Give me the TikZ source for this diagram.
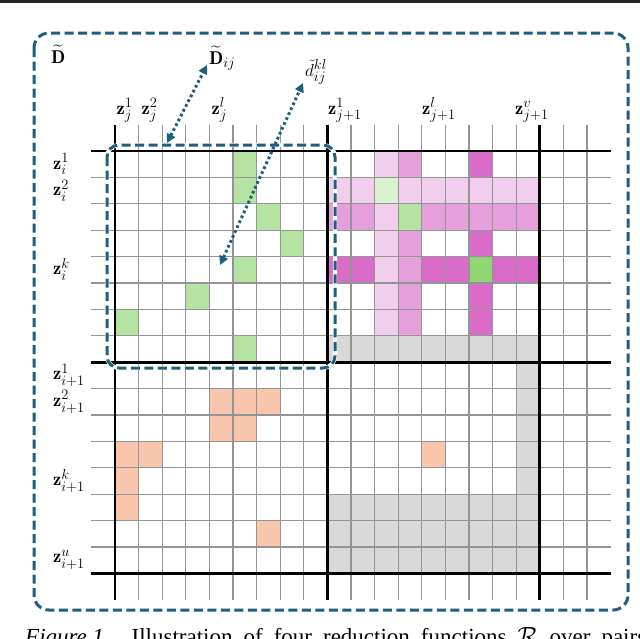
\documentclass[tikz,border=0pt]{standalone}
\usepackage{fontspec}
\usepackage{amsmath}
\usetikzlibrary{arrows.meta}
\DeclareMathSizes{18.5}{18.5}{13.8}{10.5}
\newfontfamily\capfont{Liberation Serif}
\definecolor{tealb}{RGB}{30,94,128}
\definecolor{gA}{RGB}{181,227,162}
\definecolor{gPale}{RGB}{218,242,208}
\definecolor{gBright}{RGB}{146,214,115}
\definecolor{pL}{RGB}{242,206,237}
\definecolor{pM}{RGB}{229,160,219}
\definecolor{pD}{RGB}{217,108,200}
\definecolor{salm}{RGB}{248,198,172}
\definecolor{grayc}{RGB}{217,217,217}
\newcommand\fillcell[3]{\fill[#1] ({115+#2*23.6},{151+#3*26.4}) rectangle ++(23.6,26.4);}
\begin{document}
\begin{tikzpicture}[x=1pt,y=-1pt,
  gridthin/.style={draw=black!42, line width=1.1pt},
  gridthick/.style={draw=black, line width=2.8pt},
  zlabel/.style={font=\fontsize{18.5}{20}\selectfont, inner sep=0pt},
  dashbox/.style={draw=tealb, line width=3pt, dash pattern=on 9pt off 4.5pt},
  dotarrow/.style={draw=tealb, line width=3pt, dash pattern=on 2.7pt off 2.7pt,
     {Triangle[length=9pt,width=9pt]}-{Triangle[length=9pt,width=9pt]}}
]
\useasboundingbox (0,0) rectangle (640,638);
\clip (0,0) rectangle (640,638);
\fill[white] (0,0) rectangle (640,638);
\draw[line width=2.6pt, black!85] (0,1.3) -- (640,1.3);

% ---- coloured cells ----
\foreach \c/\r in {5/0,5/1,6/2,7/3,5/4,3/5,0/6,5/7,12/2} {\fillcell{gA}{\c}{\r}}
\fillcell{gPale}{11}{1}
\fillcell{gBright}{15}{4}
\foreach \c/\r in {11/0,9/1,10/1,12/1,13/1,14/1,15/1,16/1,17/1,11/2,11/3,11/4,11/5,11/6} {\fillcell{pL}{\c}{\r}}
\foreach \c/\r in {12/0,9/2,10/2,13/2,14/2,15/2,16/2,17/2,12/3,12/4,12/5,12/6} {\fillcell{pM}{\c}{\r}}
\foreach \c/\r in {15/0,15/3,9/4,10/4,13/4,14/4,16/4,17/4,15/5,15/6} {\fillcell{pD}{\c}{\r}}
\foreach \c in {9,...,17} {\fillcell{grayc}{\c}{7}}
\foreach \r in {8,...,12} {\fillcell{grayc}{17}{\r}}
\foreach \r in {13,14,15} {\foreach \c in {9,...,17} {\fillcell{grayc}{\c}{\r}}}
\foreach \c/\r in {4/9,5/9,6/9,4/10,5/10,0/11,1/11,0/12,0/13,6/14,13/11} {\fillcell{salm}{\c}{\r}}

% ---- grid ----
\foreach \c in {0,...,20} {\draw[gridthin] ({115+\c*23.6},124.6) -- ({115+\c*23.6},599.8);}
\foreach \r in {0,...,16} {\draw[gridthin] (91.4,{151+\r*26.4}) -- (610.6,{151+\r*26.4});}
\foreach \c in {0,9,18} {\draw[gridthick] ({115+\c*23.6},124.6) -- ({115+\c*23.6},599.8);}
\foreach \r in {0,8,16} {\draw[gridthick] (91.4,{151+\r*26.4}) -- (610.6,{151+\r*26.4});}

% ---- inner block frame ----
\draw[white, line width=4.2pt, rounded corners=12pt] (107,145) rectangle (335,368);
\draw[dashbox, rounded corners=12pt] (107,145) rectangle (335,368);

% ---- outer frame ----
\draw[dashbox, rounded corners=15pt] (34,33) rectangle (628,610);

% ---- labels ----
\node[zlabel, anchor=base west] (Dt) at (51,63) {$\widetilde{\mathbf{D}}$};
\node[zlabel, anchor=base west] (Dij) at (209,64) {$\widetilde{\mathbf{D}}_{ij}$};
\node[zlabel, anchor=base west] (dkl) at (305,76) {$\tilde{d}_{ij}^{kl}$};

\node[zlabel, anchor=base west] (zj1) at (116.5,114) {$\mathbf{z}_j^1$};
\node[zlabel, anchor=base west] (zj2) at (141.5,114) {$\mathbf{z}_j^2$};
\node[zlabel, anchor=base west] (zjl) at (211.5,114) {$\mathbf{z}_j^l$};
\node[zlabel, anchor=base west] (zJ1) at (328,114) {$\mathbf{z}_{j+1}^1$};
\node[zlabel, anchor=base west] (zJl) at (422,114) {$\mathbf{z}_{j+1}^l$};
\node[zlabel, anchor=base west] (zJv) at (515,114) {$\mathbf{z}_{j+1}^v$};

\node[zlabel, anchor=west] (zi1) at (53,{151+0.5*26.4}) {$\mathbf{z}_i^1$};
\node[zlabel, anchor=west] (zi2) at (53,{151+1.5*26.4}) {$\mathbf{z}_i^2$};
\node[zlabel, anchor=west] (zik) at (53,{151+4.5*26.4}) {$\mathbf{z}_i^k$};
\node[zlabel, anchor=west] (zI1) at (53,{151+8.5*26.4}) {$\mathbf{z}_{i+1}^1$};
\node[zlabel, anchor=west] (zI2) at (53,{151+9.5*26.4}) {$\mathbf{z}_{i+1}^2$};
\node[zlabel, anchor=west] (zIk) at (53,{151+12.5*26.4}) {$\mathbf{z}_{i+1}^k$};
\node[zlabel, anchor=west] (zIu) at (53,{151+15.5*26.4}) {$\mathbf{z}_{i+1}^u$};

% ---- dotted arrows ----
\coordinate (a1s) at (167,143);
\coordinate (a1e) at (207,65);
\coordinate (a2s) at (220,265);
\coordinate (a2e) at (303,83);
\draw[dotarrow] (a1s) -- (a1e);
\draw[dotarrow] (a2s) -- (a2e);

% ---- caption (cut by the bottom edge) ----
\node[anchor=base west, inner sep=0pt, font=\capfont\fontsize{23}{25}\selectfont] (cap) at (25,644)
  {\spaceskip=11pt \textit{Figure\kern5.5pt 1.}\hspace{22pt}Illustration of four reduction functions $\mathcal{R}$ over pairs};
\end{tikzpicture}
\end{document}
